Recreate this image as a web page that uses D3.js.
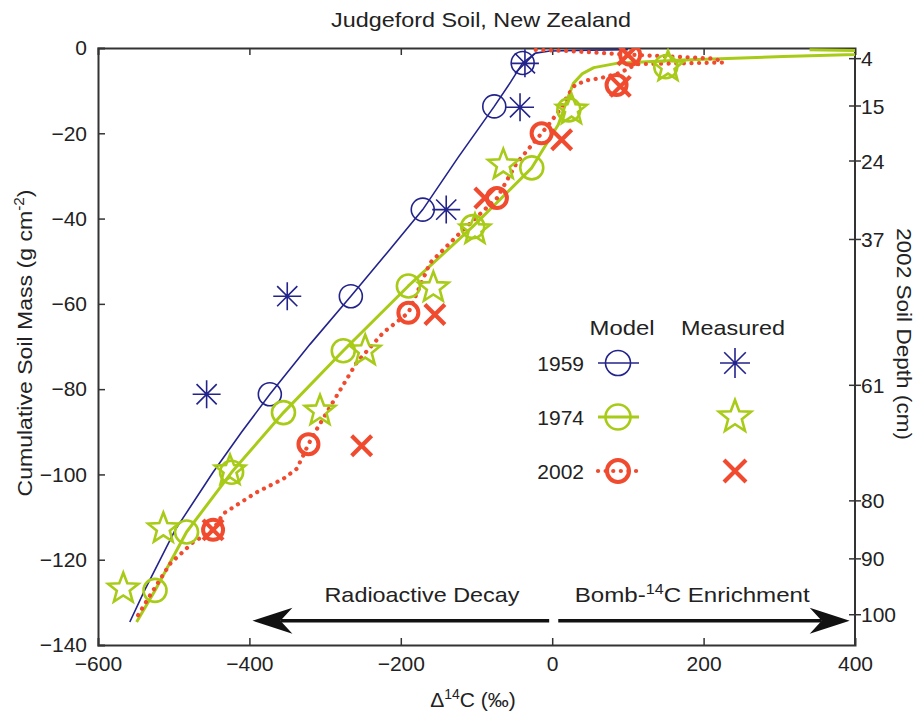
<!DOCTYPE html>
<html><head><meta charset="utf-8">
<script src="https://cdn.jsdelivr.net/npm/d3@7"></script>
<style>
body{margin:0;background:#fff}
svg{display:block}
text{font-family:"Liberation Sans",Arial,Helvetica,sans-serif;fill:#222}
</style>
</head><body>
<svg id="chart" width="921" height="715"></svg>
<script>
// ---------- data ----------
const xTicks = [-600, -400, -200, 0, 200, 400];
const yTicks = [0, -20, -40, -60, -80, -100, -120, -140];
const depthTicks = [4, 15, 24, 37, 61, 80, 90, 100];
const depthTickMass = [-2.5, -13.6, -26.5, -44.9, -79.1, -106.2, -119.8, -132.9];
const years = ["1959", "1974", "2002"];
const colors = ["#23238c", "#a8cb17", "#f04a2f"];

// model curves [Δ14C, cumulative mass]
const model1959Line = [[-558,-134.6],[-538,-127],[-498,-113],[-448,-99.5],[-410,-90],[-373,-81.2],[-320,-69.5],[-266,-58.2],[-218,-48],[-171,-37.9],[-124,-25.6],[-76.5,-13.7],[-55,-8],[-39,-3.5],[-22,-1.2],[-3,-0.7],[50,-0.5],[100,-0.4]];
const model1974Line = [[-549,-134.6],[-524.7,-127.2],[-483,-113.5],[-423.5,-99.5],[-355,-85.5],[-276,-71],[-190,-55.8],[-105,-41.9],[-27,-28.1],[8,-18],[20,-12],[28,-8.3],[40,-6],[55,-4.6],[85,-3.6],[173,-2.8],[305,-2.0],[400,-1.55],[440,-1.1],[400,-0.6],[340,-0.4]];
const model2002Line = [[-547,-133],[-530,-128],[-505,-121],[-475,-116],[-448,-113],[-434.5,-109.2],[-390.5,-104.2],[-355,-101],[-337.6,-98.7],[-329,-95.6],[-322,-92.9],[-311,-89.4],[-284.8,-81.6],[-258.4,-73.8],[-223,-66.7],[-190,-62.1],[-161.4,-50.4],[-117.4,-42.6],[-73,-35.2],[-47,-27],[-14,-20],[-3,-17.6],[10,-14.5],[21,-11],[30,-8.7],[45.5,-7.6],[63,-7.1],[90,-5.8],[111,-3.8],[170,-3.6],[226,-3.4],[215,-2.5],[160,-2.0],[105,-1.6],[60,-1.1],[20,-0.7],[-30,-0.4]];

// model layer values (circles)
const modelPts1959 = [[-39,-3.5],[-76.5,-13.7],[-171,-37.9],[-266,-58.2],[-373,-81.2]];
const modelPts1974 = [[-524.7,-127.2],[-483,-113.5],[-423.5,-99.5],[-355,-85.5],[-276,-71],[-190,-55.8],[-105,-41.9],[-27,-28.1],[22,-14.5],[150,-4.4]];
const modelPts2002 = [[-448,-113],[-322,-92.9],[-190,-62.1],[-73,-35.2],[-14,-20],[85,-8.7],[103,-1.6]];

// measured values
const meas1959 = [[-36,-3.6],[-42.5,-13.9],[-140,-37.9],[-350,-58.2],[-456.5,-81.2]];
const meas1974 = [[-566.6,-126.8],[-513.7,-112.7],[-425.6,-99.1],[-306.7,-85.1],[-247,-71],[-157,-56.2],[-102,-42.6],[-64.6,-27.4],[25.5,-14.5],[153,-4.4]];
const meas2002 = [[-448,-113],[-251.7,-93.3],[-155,-62.5],[-89,-35.2],[12.5,-21.5],[90,-9],[100,-1.6]];

// ---------- layout ----------
const svg = d3.select("#chart");
const x = d3.scaleLinear().domain([-600, 400]).range([98, 855]);
const y = d3.scaleLinear().domain([-140, 0]).range([645, 48]);
const axisColor = "#333";
const FS = 21;

svg.append("defs").append("clipPath").attr("id","plotclip")
  .append("rect").attr("x",x(-600)).attr("y",y(0)).attr("width",x(400)-x(-600)).attr("height",y(-140)-y(0));

// title
svg.append("text").attr("x",481).attr("y",27).attr("text-anchor","middle")
  .attr("font-size",FS).attr("textLength",300).attr("lengthAdjust","spacingAndGlyphs")
  .text("Judgeford Soil, New Zealand");

// axes
const gx = svg.append("g").attr("transform",`translate(0,${y(-140)})`)
  .call(d3.axisBottom(x).tickValues(xTicks).tickSize(-7).tickPadding(11).tickFormat(d3.format("d")));
const gxTop = svg.append("g").attr("transform",`translate(0,${y(0)})`)
  .call(d3.axisTop(x).tickValues(xTicks).tickSize(-7).tickFormat(""));
const gy = svg.append("g").attr("transform",`translate(${x(-600)},0)`)
  .call(d3.axisLeft(y).tickValues(yTicks).tickSize(-7).tickPadding(11).tickFormat(d3.format("d")));
const depthScaleTicks = depthTicks.map((d,i)=>({label:d, m:depthTickMass[i]}));
const gr = svg.append("g").attr("transform",`translate(${x(400)},0)`);
gr.append("line").attr("y1",y(0)).attr("y2",y(-140)).attr("stroke",axisColor).attr("stroke-width",2);
gr.selectAll("line.t").data(depthScaleTicks).join("line").attr("class","t")
  .attr("x1",-6).attr("x2",6).attr("y1",d=>y(d.m)).attr("y2",d=>y(d.m))
  .attr("stroke",axisColor).attr("stroke-width",1.5);
gr.selectAll("text").data(depthScaleTicks).join("text")
  .attr("x",6).attr("y",d=>y(d.m)).attr("dy","0.36em").attr("font-size",FS)
  .text(d=>d.label);

[gx,gxTop,gy].forEach(g=>{
  g.select(".domain").attr("stroke",axisColor).attr("stroke-width",2);
  g.selectAll(".tick line").attr("stroke",axisColor).attr("stroke-width",1.5);
  g.selectAll(".tick text").attr("font-size",FS).attr("fill","#222")
   .attr("font-family",'"Liberation Sans",Arial,sans-serif');
});
gy.selectAll(".tick").filter(d=>d===0||d===-140).select("line").remove();
gx.selectAll(".tick").filter(d=>d===-600||d===400).select("line").remove();
gxTop.selectAll(".tick").filter(d=>d===-600||d===400).select("line").remove();

// axis titles
const yl = svg.append("text").attr("transform",`translate(32,343) rotate(-90)`)
  .attr("text-anchor","middle").attr("font-size",FS).attr("textLength",307).attr("lengthAdjust","spacingAndGlyphs");
yl.append("tspan").text("Cumulative Soil Mass (g cm");
yl.append("tspan").attr("font-size",14).attr("dy",-8).text("-2");
yl.append("tspan").attr("dy",8).text(")");

svg.append("text").attr("transform",`translate(897,334) rotate(90)`)
  .attr("text-anchor","middle").attr("font-size",FS).attr("textLength",212).attr("lengthAdjust","spacingAndGlyphs")
  .text("2002 Soil Depth (cm)");

const xl = svg.append("text").attr("x",473).attr("y",707).attr("text-anchor","middle").attr("font-size",FS);
xl.append("tspan").text("Δ");
xl.append("tspan").attr("font-size",14).attr("dy",-8).text("14");
xl.append("tspan").attr("dy",8).text("C (‰)");

// ---------- marks ----------
const plot = svg.append("g").attr("clip-path","url(#plotclip)");
const line = d3.line().x(d=>x(d[0])).y(d=>y(d[1]));

plot.append("path").datum(model1959Line).attr("d",line).attr("fill","none")
  .attr("stroke",colors[0]).attr("stroke-width",1.6);
plot.append("path").datum(model1974Line).attr("d",line).attr("fill","none")
  .attr("stroke",colors[1]).attr("stroke-width",3).attr("stroke-linejoin","round");
plot.append("path").datum(model2002Line).attr("d",line).attr("fill","none")
  .attr("stroke",colors[2]).attr("stroke-width",4.2).attr("stroke-linecap","round")
  .attr("stroke-dasharray","0.1,7.5");

function circle(g, pts, color, sw, r){
  g.selectAll(null).data(pts).join("circle")
    .attr("cx",d=>x(d[0])).attr("cy",d=>y(d[1])).attr("r",r)
    .attr("fill","none").attr("stroke",color).attr("stroke-width",sw);
}
function asteriskPath(r){
  const a = r*0.72;
  return `M${-r},0L${r},0M0,${-r}L0,${r}M${-a},${-a}L${a},${a}M${-a},${a}L${a},${-a}`;
}
function starPath(R, r){
  let p = "";
  for (let i=0;i<10;i++){
    const ang = -Math.PI/2 + i*Math.PI/5;
    const rad = i%2===0 ? R : r;
    p += (i===0?"M":"L") + (rad*Math.cos(ang)).toFixed(2) + "," + (rad*Math.sin(ang)).toFixed(2);
  }
  return p + "Z";
}
function crossPath(r){ return `M${-r},${-r}L${r},${r}M${-r},${r}L${r},${-r}`; }

function symbols(g, pts, pathStr, color, sw){
  g.selectAll(null).data(pts).join("path")
    .attr("transform",d=>`translate(${x(d[0])},${y(d[1])})`)
    .attr("d",pathStr).attr("fill","none").attr("stroke",color).attr("stroke-width",sw)
    .attr("stroke-linejoin","miter");
}

circle(plot, modelPts1959, colors[0], 1.6, 11.5);
circle(plot, modelPts1974, colors[1], 2.6, 11.5);
circle(plot, modelPts2002, colors[2], 4, 10);
symbols(plot, meas1959, asteriskPath(14), colors[0], 1.6);
symbols(plot, meas1974, starPath(16,6.8), colors[1], 2.6);
symbols(plot, meas2002, crossPath(10), colors[2], 4.2);

// ---------- arrows ----------
const arrowY = y(-134.3);
const ag = svg.append("g");
function arrow(x0, x1){
  const dir = Math.sign(x1-x0);
  ag.append("line").attr("x1",x0).attr("x2",x1-dir*28).attr("y1",arrowY).attr("y2",arrowY)
    .attr("stroke","#111").attr("stroke-width",3.5);
  ag.append("path").attr("fill","#111")
    .attr("d",`M${x1},${arrowY}L${x1-dir*40},${arrowY-13}L${x1-dir*28},${arrowY}L${x1-dir*40},${arrowY+13}Z`);
}
arrow(x(-4), x(-396));
arrow(x(8), x(393));
svg.append("text").attr("x",x(-172)).attr("y",602).attr("text-anchor","middle")
  .attr("font-size",FS).attr("textLength",195).attr("lengthAdjust","spacingAndGlyphs").text("Radioactive Decay");
const bt = svg.append("text").attr("x",x(185)).attr("y",602).attr("text-anchor","middle").attr("font-size",FS)
  .attr("textLength",235).attr("lengthAdjust","spacingAndGlyphs");
bt.append("tspan").text("Bomb-");
bt.append("tspan").attr("font-size",14).attr("dy",-8).text("14");
bt.append("tspan").attr("dy",8).text("C Enrichment");

// ---------- legend ----------
const lg = svg.append("g");
lg.append("text").attr("x",622).attr("y",335).attr("text-anchor","middle").attr("font-size",FS)
  .attr("textLength",65).attr("lengthAdjust","spacingAndGlyphs").text("Model");
lg.append("text").attr("x",733).attr("y",335).attr("text-anchor","middle").attr("font-size",FS)
  .attr("textLength",104).attr("lengthAdjust","spacingAndGlyphs").text("Measured");
const rowsY = [363, 417, 471];
const legendSym = [asteriskPath(15), starPath(17,7.2), crossPath(11)];
const legendSW = [1.6, 2.6, 4.2];
years.forEach((yr,i)=>{
  const cy = rowsY[i];
  lg.append("text").attr("x",584).attr("y",cy).attr("dy","0.36em").attr("text-anchor","end")
    .attr("font-size",FS).text(yr);
  const ln = lg.append("line").attr("x1",598).attr("x2",639).attr("y1",cy).attr("y2",cy)
    .attr("stroke",colors[i]).attr("stroke-width", i===0?1.6:(i===1?3:4.2));
  if (i===2) ln.attr("stroke-linecap","round").attr("stroke-dasharray","0.1,7.5");
  lg.append("circle").attr("cx",618).attr("cy",cy).attr("r",i===2?11:12.5)
    .attr("fill","none").attr("stroke",colors[i]).attr("stroke-width",i===0?1.6:(i===1?2.6:4));
  lg.append("path").attr("transform",`translate(735,${cy})`).attr("d",legendSym[i])
    .attr("fill","none").attr("stroke",colors[i]).attr("stroke-width",legendSW[i]);
});
</script>
</body></html>
